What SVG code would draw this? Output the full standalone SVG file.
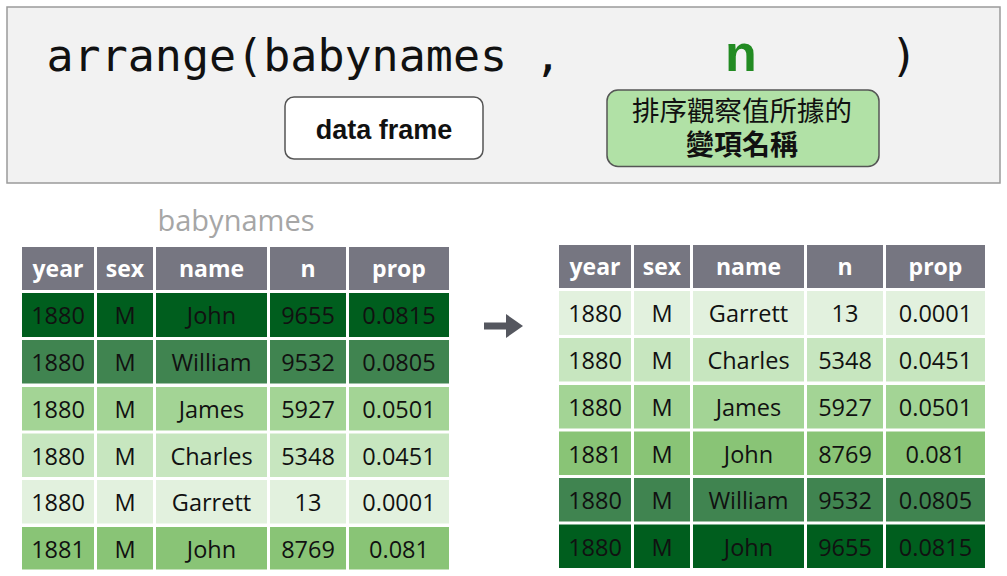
<svg xmlns="http://www.w3.org/2000/svg" width="1007" height="576" viewBox="0 0 1007 576">
<style>
.code{font-family:"DejaVu Sans Mono","Liberation Mono",monospace;font-size:45px;fill:#111}
.hd rect{fill:#767681}
.hd text{font-family:"Open Sans","Noto Sans",sans-serif;font-weight:bold;font-size:23px;fill:#fff;text-anchor:middle}
.cell{font-family:"Open Sans","Noto Sans",sans-serif;font-size:23.5px;fill:#111;text-anchor:middle}
.g1{fill:#005e1e}.g2{fill:#408450}.g3{fill:#a3d495}.g4{fill:#c7e6bf}.g5{fill:#e2f1de}.g6{fill:#89c476}
</style>
<rect width="1007" height="576" fill="#ffffff"/>
<g id="code-panel">
<rect x="7" y="7" width="993" height="176" fill="#f2f2f2" stroke="#9a9a9a" stroke-width="1.5"/>
<text class="code" x="46.5" y="71" xml:space="preserve">arrange(babynames ,</text>
<text x="741" y="71" text-anchor="middle" font-family="Liberation Sans, Arial, sans-serif" font-weight="bold" font-size="52" fill="#228b22">n</text>
<text class="code" x="904" y="71" text-anchor="middle">)</text>
</g>
<g id="data-frame-box">
<rect x="285" y="97" width="198" height="62" rx="9" fill="#ffffff" stroke="#555" stroke-width="1.5"/>
<text x="384" y="139" text-anchor="middle" font-family="Liberation Sans, Arial, sans-serif" font-weight="bold" font-size="27" fill="#111">data frame</text>
</g>
<g id="variable-box">
<rect x="607" y="90" width="272" height="76.5" rx="11" fill="#b1e1a6" stroke="#555" stroke-width="1.5"/>
<text x="742" y="120.5" text-anchor="middle" font-family="Liberation Sans, 'Noto Sans CJK TC', sans-serif" font-size="27.5" fill="#111">排序觀察值所據的</text>
<text x="742" y="155" text-anchor="middle" font-family="Liberation Sans, 'Noto Sans CJK TC', sans-serif" font-weight="bold" font-size="28" fill="#111">變項名稱</text>
</g>
<g id="babynames-label">
<text x="236" y="231" text-anchor="middle" font-family="Open Sans, Noto Sans, sans-serif" font-size="29" fill="#a6a6a6">babynames</text>
</g>
<g id="left-table">
<g class="hd">
<rect x="22" y="247" width="72" height="43"/><rect x="97" y="247" width="56" height="43"/><rect x="156" y="247" width="111" height="43"/><rect x="270" y="247" width="76" height="43"/><rect x="349" y="247" width="100" height="43"/>
<text x="58" y="277">year</text><text x="125" y="277">sex</text><text x="211.5" y="277">name</text><text x="308" y="277">n</text><text x="399" y="277">prop</text>
</g>
<g class="g1">
<rect x="22" y="293" width="72" height="44"/><rect x="97" y="293" width="56" height="44"/><rect x="156" y="293" width="111" height="44"/><rect x="270" y="293" width="76" height="44"/><rect x="349" y="293" width="100" height="44"/>
</g>
<g class="cell"><text x="58" y="324">1880</text><text x="125" y="324">M</text><text x="211.5" y="324">John</text><text x="308" y="324">9655</text><text x="399" y="324">0.0815</text></g>
<g class="g2">
<rect x="22" y="340" width="72" height="43.5"/><rect x="97" y="340" width="56" height="43.5"/><rect x="156" y="340" width="111" height="43.5"/><rect x="270" y="340" width="76" height="43.5"/><rect x="349" y="340" width="100" height="43.5"/>
</g>
<g class="cell"><text x="58" y="371">1880</text><text x="125" y="371">M</text><text x="211.5" y="371">William</text><text x="308" y="371">9532</text><text x="399" y="371">0.0805</text></g>
<g class="g3">
<rect x="22" y="387" width="72" height="43.5"/><rect x="97" y="387" width="56" height="43.5"/><rect x="156" y="387" width="111" height="43.5"/><rect x="270" y="387" width="76" height="43.5"/><rect x="349" y="387" width="100" height="43.5"/>
</g>
<g class="cell"><text x="58" y="418">1880</text><text x="125" y="418">M</text><text x="211.5" y="418">James</text><text x="308" y="418">5927</text><text x="399" y="418">0.0501</text></g>
<g class="g4">
<rect x="22" y="433.5" width="72" height="43.5"/><rect x="97" y="433.5" width="56" height="43.5"/><rect x="156" y="433.5" width="111" height="43.5"/><rect x="270" y="433.5" width="76" height="43.5"/><rect x="349" y="433.5" width="100" height="43.5"/>
</g>
<g class="cell"><text x="58" y="464.5">1880</text><text x="125" y="464.5">M</text><text x="211.5" y="464.5">Charles</text><text x="308" y="464.5">5348</text><text x="399" y="464.5">0.0451</text></g>
<g class="g5">
<rect x="22" y="480" width="72" height="43.5"/><rect x="97" y="480" width="56" height="43.5"/><rect x="156" y="480" width="111" height="43.5"/><rect x="270" y="480" width="76" height="43.5"/><rect x="349" y="480" width="100" height="43.5"/>
</g>
<g class="cell"><text x="58" y="511">1880</text><text x="125" y="511">M</text><text x="211.5" y="511">Garrett</text><text x="308" y="511">13</text><text x="399" y="511">0.0001</text></g>
<g class="g6">
<rect x="22" y="527" width="72" height="42.5"/><rect x="97" y="527" width="56" height="42.5"/><rect x="156" y="527" width="111" height="42.5"/><rect x="270" y="527" width="76" height="42.5"/><rect x="349" y="527" width="100" height="42.5"/>
</g>
<g class="cell"><text x="58" y="558">1881</text><text x="125" y="558">M</text><text x="211.5" y="558">John</text><text x="308" y="558">8769</text><text x="399" y="558">0.081</text></g>
</g>
<g id="connectors">
<rect x="484" y="322.5" width="25" height="7" fill="#55575f"/>
<polygon points="506,314 523,326 506,338" fill="#55575f"/>
</g>
<g id="right-table">
<g class="hd">
<rect x="559" y="245" width="72" height="43"/><rect x="634" y="245" width="56" height="43"/><rect x="693" y="245" width="111" height="43"/><rect x="807" y="245" width="76" height="43"/><rect x="886" y="245" width="99" height="43"/>
<text x="595" y="275">year</text><text x="662" y="275">sex</text><text x="748.5" y="275">name</text><text x="845" y="275">n</text><text x="935.5" y="275">prop</text>
</g>
<g class="g5">
<rect x="559" y="291" width="72" height="44"/><rect x="634" y="291" width="56" height="44"/><rect x="693" y="291" width="111" height="44"/><rect x="807" y="291" width="76" height="44"/><rect x="886" y="291" width="99" height="44"/>
</g>
<g class="cell"><text x="595" y="322">1880</text><text x="662" y="322">M</text><text x="748.5" y="322">Garrett</text><text x="845" y="322">13</text><text x="935.5" y="322">0.0001</text></g>
<g class="g4">
<rect x="559" y="338" width="72" height="43.5"/><rect x="634" y="338" width="56" height="43.5"/><rect x="693" y="338" width="111" height="43.5"/><rect x="807" y="338" width="76" height="43.5"/><rect x="886" y="338" width="99" height="43.5"/>
</g>
<g class="cell"><text x="595" y="369">1880</text><text x="662" y="369">M</text><text x="748.5" y="369">Charles</text><text x="845" y="369">5348</text><text x="935.5" y="369">0.0451</text></g>
<g class="g3">
<rect x="559" y="385" width="72" height="43.5"/><rect x="634" y="385" width="56" height="43.5"/><rect x="693" y="385" width="111" height="43.5"/><rect x="807" y="385" width="76" height="43.5"/><rect x="886" y="385" width="99" height="43.5"/>
</g>
<g class="cell"><text x="595" y="416">1880</text><text x="662" y="416">M</text><text x="748.5" y="416">James</text><text x="845" y="416">5927</text><text x="935.5" y="416">0.0501</text></g>
<g class="g6">
<rect x="559" y="431.5" width="72" height="43.5"/><rect x="634" y="431.5" width="56" height="43.5"/><rect x="693" y="431.5" width="111" height="43.5"/><rect x="807" y="431.5" width="76" height="43.5"/><rect x="886" y="431.5" width="99" height="43.5"/>
</g>
<g class="cell"><text x="595" y="462.5">1881</text><text x="662" y="462.5">M</text><text x="748.5" y="462.5">John</text><text x="845" y="462.5">8769</text><text x="935.5" y="462.5">0.081</text></g>
<g class="g2">
<rect x="559" y="478" width="72" height="43.5"/><rect x="634" y="478" width="56" height="43.5"/><rect x="693" y="478" width="111" height="43.5"/><rect x="807" y="478" width="76" height="43.5"/><rect x="886" y="478" width="99" height="43.5"/>
</g>
<g class="cell"><text x="595" y="509">1880</text><text x="662" y="509">M</text><text x="748.5" y="509">William</text><text x="845" y="509">9532</text><text x="935.5" y="509">0.0805</text></g>
<g class="g1">
<rect x="559" y="524.5" width="72" height="43.5"/><rect x="634" y="524.5" width="56" height="43.5"/><rect x="693" y="524.5" width="111" height="43.5"/><rect x="807" y="524.5" width="76" height="43.5"/><rect x="886" y="524.5" width="99" height="43.5"/>
</g>
<g class="cell"><text x="595" y="555.5">1880</text><text x="662" y="555.5">M</text><text x="748.5" y="555.5">John</text><text x="845" y="555.5">9655</text><text x="935.5" y="555.5">0.0815</text></g>
</g>
</svg>
